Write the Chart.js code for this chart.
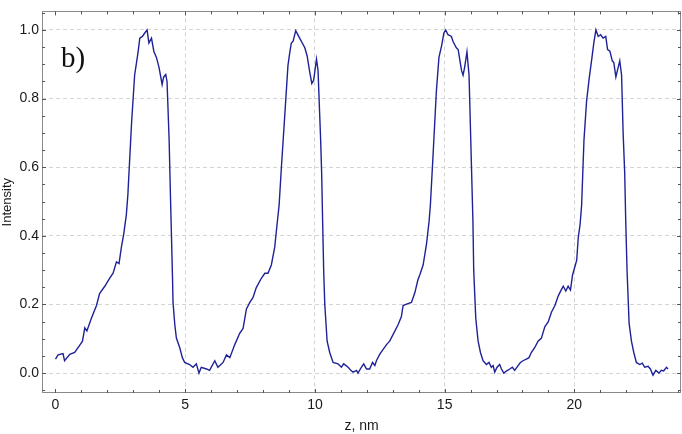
<!DOCTYPE html>
<html>
<head>
<meta charset="utf-8">
<script src="https://cdn.jsdelivr.net/npm/chart.js@4"></script>
<style>
  html, body { margin: 0; padding: 0; background: #fff; }
  #wrap { width: 682px; height: 434px; }
</style>
</head>
<body>
<div id="wrap"><canvas id="grafica" width="682" height="434"></canvas></div>
<script>
// z, nm
const zValues = [
  0.00, 0.10, 0.29, 0.35, 0.55, 0.74, 0.93, 1.04, 1.13, 1.21,
  1.38, 1.58, 1.70, 1.90, 2.09, 2.22, 2.35, 2.45, 2.54, 2.63,
  2.73, 2.79, 2.93, 3.05, 3.18, 3.25, 3.35, 3.44, 3.53, 3.60,
  3.70, 3.79, 3.89, 3.99, 4.11, 4.17, 4.25, 4.30, 4.38, 4.43,
  4.47, 4.51, 4.53, 4.60, 4.66, 4.79, 4.89, 4.98, 5.17, 5.30,
  5.43, 5.53, 5.62, 5.82, 5.94, 6.14, 6.26, 6.46, 6.59, 6.72,
  6.91, 7.10, 7.23, 7.36, 7.49, 7.61, 7.74, 7.94, 8.07, 8.19,
  8.32, 8.45, 8.54, 8.62, 8.71, 8.84, 8.96, 9.03, 9.09, 9.16,
  9.26, 9.41, 9.61, 9.70, 9.80, 9.88, 9.95, 10.06, 10.12, 10.18,
  10.22, 10.26, 10.30, 10.34, 10.38, 10.47, 10.57, 10.70, 10.89, 11.02, 11.11,
  11.28, 11.38, 11.47, 11.60, 11.66, 11.79, 11.88, 11.99, 12.11, 12.22,
  12.31, 12.37, 12.50, 12.63, 12.76, 12.88, 13.01, 13.20, 13.33, 13.40,
  13.53, 13.72, 13.85, 13.97, 14.04, 14.17, 14.30, 14.40, 14.45, 14.55,
  14.68, 14.78, 14.88, 14.97, 15.04, 15.13, 15.26, 15.32, 15.45, 15.52,
  15.58, 15.65, 15.71, 15.77, 15.86, 15.94, 15.99, 16.04, 16.09, 16.12,
  16.20, 16.29, 16.38, 16.48, 16.61, 16.71, 16.80, 16.87, 16.93, 17.02,
  17.12, 17.19, 17.28, 17.38, 17.51, 17.61, 17.70, 17.83, 17.92, 18.02,
  18.15, 18.25, 18.34, 18.47, 18.60, 18.73, 18.86, 18.99, 19.12, 19.25,
  19.38, 19.47, 19.57, 19.67, 19.76, 19.85, 19.93, 20.02, 20.09, 20.15,
  20.22, 20.28, 20.37, 20.47, 20.57, 20.67, 20.75, 20.83, 20.92, 21.01,
  21.11, 21.21, 21.28, 21.37, 21.46, 21.52, 21.60, 21.66, 21.75, 21.82,
  21.88, 21.94, 21.98, 22.03, 22.11, 22.20, 22.29, 22.39, 22.52, 22.62,
  22.71, 22.84, 22.93, 23.03, 23.14, 23.26, 23.35, 23.44, 23.55, 23.61
];

// Intensity
const intensity = [
  0.041, 0.053, 0.057, 0.036, 0.055, 0.060, 0.081, 0.093, 0.132, 0.123,
  0.159, 0.197, 0.232, 0.253, 0.277, 0.291, 0.324, 0.319, 0.367, 0.405,
  0.461, 0.520, 0.726, 0.868, 0.934, 0.976, 0.981, 0.991, 1.000, 0.962,
  0.976, 0.938, 0.920, 0.891, 0.841, 0.863, 0.870, 0.849, 0.679, 0.520,
  0.400, 0.280, 0.206, 0.140, 0.102, 0.074, 0.045, 0.031, 0.025, 0.017,
  0.027, 0.000, 0.017, 0.012, 0.008, 0.036, 0.017, 0.031, 0.053, 0.045,
  0.083, 0.116, 0.130, 0.187, 0.206, 0.220, 0.249, 0.277, 0.291, 0.291,
  0.315, 0.367, 0.433, 0.490, 0.603, 0.754, 0.896, 0.934, 0.962, 0.967,
  0.998, 0.976, 0.948, 0.924, 0.877, 0.844, 0.853, 0.915, 0.882, 0.760,
  0.680, 0.580, 0.430, 0.290, 0.200, 0.093, 0.060, 0.031, 0.027, 0.017, 0.027,
  0.017, 0.008, 0.003, 0.008, 0.000, 0.017, 0.027, 0.012, 0.012, 0.031,
  0.022, 0.036, 0.055, 0.069, 0.083, 0.093, 0.112, 0.140, 0.164, 0.197,
  0.201, 0.206, 0.234, 0.272, 0.286, 0.315, 0.376, 0.442, 0.490, 0.631,
  0.820, 0.920, 0.953, 0.991, 1.000, 0.986, 0.981, 0.967, 0.948, 0.943,
  0.915, 0.882, 0.868, 0.891, 0.936, 0.868, 0.726, 0.584, 0.442, 0.300,
  0.159, 0.093, 0.060, 0.036, 0.025, 0.031, 0.017, 0.022, 0.003, 0.017,
  0.025, 0.012, 0.000, 0.006, 0.012, 0.017, 0.008, 0.022, 0.031, 0.036,
  0.041, 0.045, 0.060, 0.074, 0.093, 0.102, 0.135, 0.149, 0.178, 0.197,
  0.225, 0.239, 0.253, 0.239, 0.253, 0.242, 0.286, 0.310, 0.329, 0.395,
  0.433, 0.490, 0.679, 0.792, 0.858, 0.915, 0.962, 1.000, 0.981, 0.986,
  0.976, 0.981, 0.943, 0.938, 0.910, 0.905, 0.863, 0.882, 0.910, 0.868,
  0.698, 0.584, 0.442, 0.300, 0.145, 0.093, 0.060, 0.031, 0.025, 0.029,
  0.017, 0.020, 0.012, -0.006, 0.008, 0.000, 0.008, 0.006, 0.017, 0.012
];

const xTicks = [0, 5, 10, 15, 20];
const yTicks = [0.0, 0.2, 0.4, 0.6, 0.8, 1.0];
const panelLabel = 'b)';

const points = zValues.map(function (z, i) { return { x: z, y: intensity[i] }; });

const fontFamily = '"Liberation Sans", Arial, sans-serif';
const frameColor = '#8a8a8a';
const gridColor = '#d4d4d4';

// marc, marques petites i etiqueta "b)"
const framePlugin = {
  id: 'frame',
  afterDraw: function (chart) {
    const ctx = chart.ctx;
    const area = chart.chartArea;
    const xs = chart.scales.x;
    const ys = chart.scales.y;
    ctx.save();
    ctx.strokeStyle = frameColor;
    ctx.lineWidth = 1;
    ctx.strokeRect(Math.round(area.left) + 0.5, Math.round(area.top) + 0.5,
      Math.round(area.right - area.left) - 1, Math.round(area.bottom - area.top) - 1);

    ctx.strokeStyle = '#555';
    ctx.beginPath();
    for (let v = Math.ceil(xs.min); v <= xs.max; v++) {
      const px = Math.round(xs.getPixelForValue(v)) + 0.5;
      const len = (v % 5 === 0) ? 4 : 3;
      ctx.moveTo(px, area.bottom); ctx.lineTo(px, area.bottom - len);
      ctx.moveTo(px, area.top); ctx.lineTo(px, area.top + len);
    }
    for (let k = Math.ceil(ys.min / 0.05); k * 0.05 <= ys.max; k++) {
      const py = Math.round(ys.getPixelForValue(k * 0.05)) + 0.5;
      const len = (k % 4 === 0) ? 4 : 3;
      ctx.moveTo(area.left, py); ctx.lineTo(area.left + len, py);
      ctx.moveTo(area.right, py); ctx.lineTo(area.right - len, py);
    }
    ctx.stroke();

    ctx.fillStyle = '#111';
    ctx.font = '29px "Liberation Serif", "Times New Roman", serif';
    ctx.textBaseline = 'alphabetic';
    ctx.fillText(panelLabel, area.left + 19, area.top + 56);
    ctx.restore();
  }
};

const config = {
  type: 'line',
  data: {
    datasets: [{
      data: points,
      borderColor: 'rgb(30, 34, 150)',
      borderWidth: 1.4,
      pointRadius: 0,
      tension: 0,
      fill: false
    }]
  },
  options: {
    responsive: false,
    animation: false,
    layout: { padding: { top: 1, right: 1, left: 0, bottom: 0 } },
    plugins: {
      legend: { display: false },
      tooltip: { enabled: false }
    },
    scales: {
      x: {
        type: 'linear',
        min: -0.52,
        max: 24.11,
        afterBuildTicks: function (scale) {
          scale.ticks = xTicks.map(function (v) { return { value: v }; });
        },
        afterFit: function (scale) { scale.height = 41; },
        ticks: {
          padding: 4,
          color: '#1a1a1a',
          font: { family: fontFamily, size: 14 },
          callback: function (v) { return String(v); }
        },
        grid: {
          drawTicks: false,
          color: function (c) { return (c.tick && c.tick.value === 0) ? 'rgba(0,0,0,0)' : gridColor; }
        },
        border: { display: false, dash: [4, 3] },
        title: {
          display: true,
          text: 'z, nm',
          color: '#1a1a1a',
          font: { family: fontFamily, size: 14 },
          padding: { top: 0, bottom: -1 }
        }
      },
      y: {
        type: 'linear',
        min: -0.058,
        max: 1.054,
        afterBuildTicks: function (scale) {
          scale.ticks = yTicks.map(function (v) { return { value: v }; });
        },
        afterFit: function (scale) { scale.width = 42; },
        ticks: {
          padding: 3,
          color: '#1a1a1a',
          font: { family: fontFamily, size: 14 },
          callback: function (v) { return Number(v).toFixed(1); }
        },
        grid: {
          drawTicks: false,
          color: gridColor
        },
        border: { display: false, dash: [4, 3] },
        title: {
          display: true,
          text: 'Intensity',
          color: '#1a1a1a',
          font: { family: fontFamily, size: 13 },
          padding: { top: 0, bottom: 0 }
        }
      }
    }
  },
  plugins: [framePlugin]
};

new Chart(document.getElementById('grafica'), config);
</script>
</body>
</html>
